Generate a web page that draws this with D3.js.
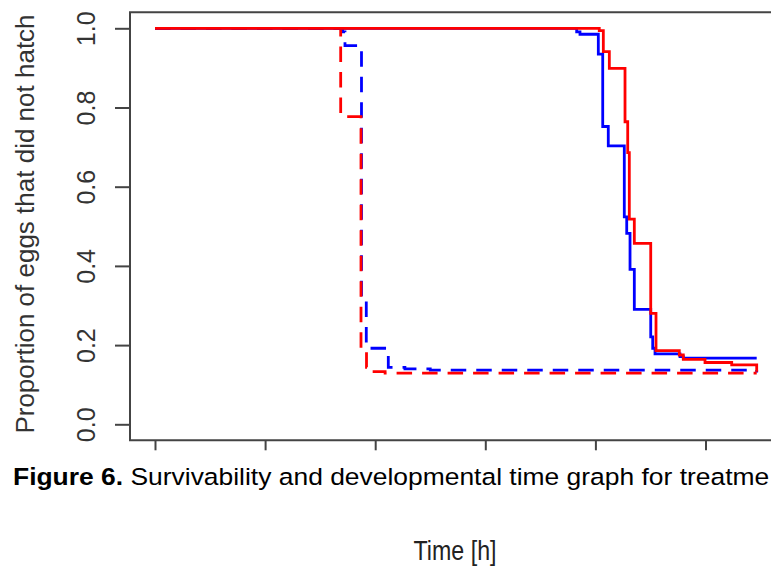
<!DOCTYPE html>
<html>
<head>
<meta charset="utf-8">
<script src="https://cdn.jsdelivr.net/npm/d3@7"></script>
<style>
  html, body { margin: 0; padding: 0; background: #fff; }
  svg { display: block; }
  text { font-family: "Liberation Sans", Arial, Helvetica, sans-serif; }
</style>
</head>
<body>
<svg id="chart" width="771" height="569"></svg>
<script>
// Kaplan-Meier style step curves: time of each step [h] and the proportion after it
const redSolidTime  = [0, 80.7, 81.44, 82.53, 85.38, 85.87, 86.16, 87.07, 90.05, 91.01, 95.24, 95.97, 99.91, 104.76, 109.3];
const redSolidProp  = [1, 0.994, 0.941, 0.899, 0.764, 0.686, 0.518, 0.457, 0.280, 0.186, 0.175, 0.164, 0.156, 0.150, 0.133];

const blueSolidTime = [0, 76.6, 77.2, 80.53, 81.33, 82.34, 85.25, 85.69, 86.29, 87.07, 90.05, 90.41, 90.83, 95.37, 95.97];
const blueSolidProp = [1, 0.991, 0.985, 0.935, 0.752, 0.703, 0.524, 0.482, 0.391, 0.290, 0.221, 0.192, 0.178, 0.171, 0.167];

const redDashTime   = [0, 33.73, 37.42, 38.42, 39.18, 41.8];
const redDashProp   = [1, 0.777, 0.186, 0.144, 0.133, 0.129];

const blueDashTime  = [0, 34.1, 34.51, 37.51, 38.38, 42.38, 45.4, 50.0, 109.3];
const blueDashProp  = [1, 0.991, 0.956, 0.321, 0.192, 0.144, 0.140, 0.137, 0.131];

const endTime = 109.3;

const xTicks = [0, 20, 40, 60, 80, 100];
const yTicks = [0, 0.2, 0.4, 0.6, 0.8, 1.0];
const yTickLabels = ["0.0", "0.2", "0.4", "0.6", "0.8", "1.0"];

const yTitle = "Proportion of eggs that did not hatch";
const xTitle = "Time [h]";
const captionBold = "Figure 6.";
const captionText = " Survivability and developmental time graph for treatme";

const svg = d3.select("#chart");

const x = d3.scaleLinear().domain([0, 100]).range([155, 705.5]);
const y = d3.scaleLinear().domain([0, 1]).range([424.3, 28.3]);

const frame = { left: 130, top: 12.3, bottom: 440.3, right: 812 };
const axisColor = "#444";
const textColor = "#333";

// plot box
svg.append("path")
  .attr("d", `M${frame.right},${frame.top}H${frame.left}V${frame.bottom}H${frame.right}`)
  .attr("fill", "none")
  .attr("stroke", axisColor)
  .attr("stroke-width", 2);

// x axis: ticks only
const xAxis = svg.append("g")
  .attr("transform", `translate(0,${frame.bottom})`)
  .call(d3.axisBottom(x).tickValues(xTicks).tickSize(10).tickFormat(""));
xAxis.select(".domain").remove();
xAxis.selectAll(".tick line").attr("stroke", axisColor).attr("stroke-width", 2);

// y axis: ticks with labels parallel to the axis
const yAxis = svg.append("g")
  .attr("transform", `translate(${frame.left},0)`)
  .call(d3.axisLeft(y).tickValues(yTicks).tickSize(15)
        .tickFormat((d, i) => yTickLabels[i]));
yAxis.select(".domain").remove();
yAxis.selectAll(".tick line").attr("stroke", axisColor).attr("stroke-width", 2);
yAxis.selectAll(".tick text")
  .attr("x", null).attr("dy", null)
  .attr("transform", "translate(-35,0) rotate(-90)")
  .attr("text-anchor", "middle")
  .attr("fill", textColor)
  .style("font-size", "25px")
  .style("font-family", "'Liberation Sans', Arial, sans-serif");

// y axis title
svg.append("text")
  .attr("transform", `translate(33.5,224) rotate(-90)`)
  .attr("text-anchor", "middle")
  .attr("fill", textColor)
  .style("font-size", "26px")
  .text(yTitle);

// survival curves
const stepLine = d3.line()
  .x(d => x(d[0]))
  .y(d => y(d[1]))
  .curve(d3.curveStepAfter);

function curvePoints(times, props) {
  const pts = times.map((t, i) => [t, props[i]]);
  if (times[times.length - 1] < endTime) pts.push([endTime, props[props.length - 1]]);
  return pts;
}

const curves = [
  { t: blueDashTime,  p: blueDashProp,  color: "#0000ff", dash: "15.5,10" },
  { t: redDashTime,   p: redDashProp,   color: "#ff0000", dash: "15.5,10" },
  { t: blueSolidTime, p: blueSolidProp, color: "#0000ff", dash: null },
  { t: redSolidTime,  p: redSolidProp,  color: "#ff0000", dash: null }
];

svg.append("g").selectAll("path")
  .data(curves)
  .join("path")
  .attr("d", c => stepLine(curvePoints(c.t, c.p)))
  .attr("fill", "none")
  .attr("stroke", c => c.color)
  .attr("stroke-width", 2.8)
  .attr("stroke-dasharray", c => c.dash);

// caption, stretched horizontally to run from the left margin to the right edge
const capLeft = 13, capRight = 769.5;
const cap = svg.append("text")
  .attr("fill", "#000")
  .style("font-size", "23.5px");
cap.append("tspan").style("font-weight", "bold").text(captionBold);
cap.append("tspan").text(captionText);
const capWidth = cap.node().getComputedTextLength();
cap.attr("transform", `translate(${capLeft},485) scale(${(capRight - capLeft) / capWidth},1)`);

// x axis title
svg.append("text")
  .attr("transform", "translate(455,560) scale(0.86,1)")
  .attr("text-anchor", "middle")
  .attr("fill", "#222")
  .style("font-size", "27px")
  .text(xTitle);
</script>
</body>
</html>
